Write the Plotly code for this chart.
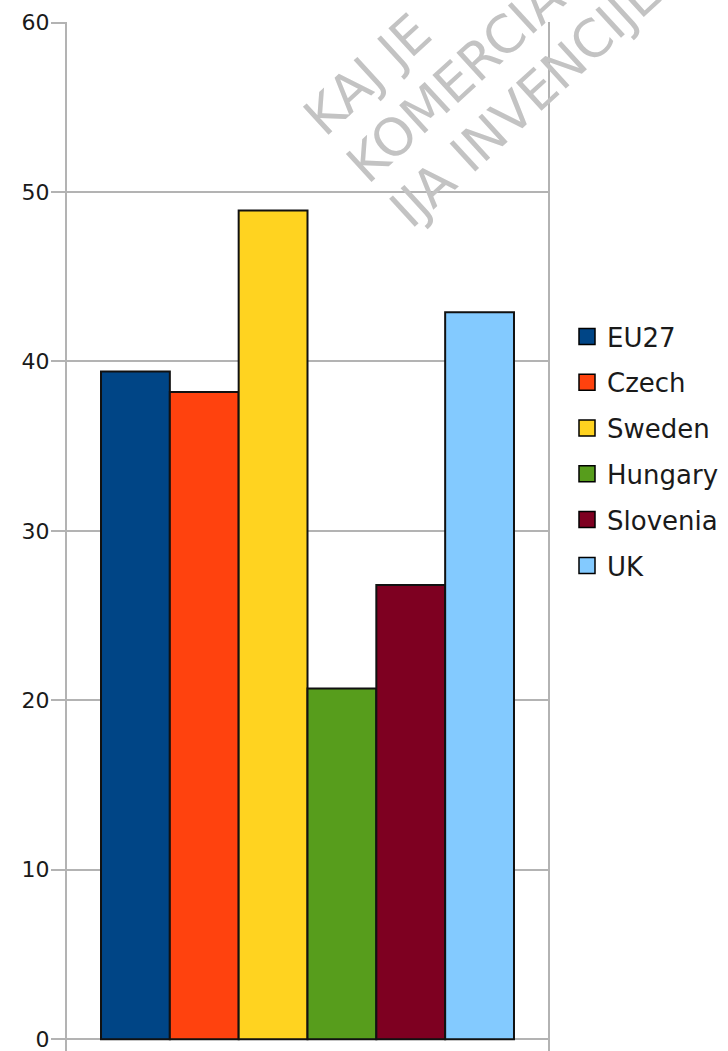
import plotly.graph_objects as go

countries = ["EU27", "Czech", "Sweden", "Hungary", "Slovenia", "UK"]
values = [39.4, 38.2, 48.9, 20.7, 26.8, 42.9]
colors = ["#004586", "#ff420e", "#ffd320", "#579d1c", "#7e0021", "#83caff"]
y_ticks = [0, 10, 20, 30, 40, 50, 60]
watermark_lines = ["KAJ JE", "KOMERCIALIZAC", "IJA INVENCIJE"]

W, H = 728, 1051
ML, MR, MT, MB = 67, 180, 22, 0
PW, PH = W - ML - MR, H - MT - MB


def px_x(px):
    return (px - ML) / PW


def px_y(py):
    return (H - MB - py) / PH


fig = go.Figure()
for name, val, col in zip(countries, values, colors):
    fig.add_trace(go.Bar(
        x=["all"], y=[val], name=name, legendgroup=name,
        marker=dict(color=col, line=dict(color="#111111", width=2)),
        showlegend=False,
    ))
    fig.add_trace(go.Scatter(
        x=[None], y=[None], name=name, legendgroup=name, mode="markers",
        marker=dict(symbol="square", size=16, color=col,
                    line=dict(color="#000000", width=1.5)),
        showlegend=True,
    ))

wm_pos = [(289, 150), (332, 197), (376, 242)]
annotations = []
for txt, (ax, ay) in zip(watermark_lines, wm_pos):
    annotations.append(dict(
        text=txt, xref="paper", yref="paper", x=px_x(ax), y=px_y(ay),
        xanchor="left", yanchor="bottom", textangle=-42.5, showarrow=False,
        font=dict(family="DejaVu Sans", size=52, color="#c3c3c3"),
    ))

fig.update_layout(
    width=W, height=H, autosize=False,
    margin=dict(l=ML, r=MR, t=MT, b=MB, pad=0),
    paper_bgcolor="white", plot_bgcolor="white",
    barmode="group", bargap=0.1414, bargroupgap=0,
    showlegend=True,
    legend=dict(
        x=px_x(567), y=px_y(451), xanchor="left", yanchor="middle",
        font=dict(family="DejaVu Sans", size=26, color="#1a1a1a"),
        traceorder="grouped", tracegroupgap=9,
        bgcolor="rgba(0,0,0,0)", borderwidth=0,
    ),
    xaxis=dict(showticklabels=False, showgrid=False, zeroline=False,
               showline=False, ticks="", range=[-0.5, 0.5]),
    yaxis=dict(
        range=[-0.7, 60.03], tickvals=y_ticks, ticktext=[str(v) for v in y_ticks],
        showgrid=True, gridcolor="#b3b3b3", gridwidth=1.6,
        zeroline=True, zerolinecolor="#b3b3b3", zerolinewidth=1.6,
        showline=True, mirror=True, linecolor="#b3b3b3", linewidth=2,
        ticks="outside", ticklen=14, tickwidth=1.6, tickcolor="#b3b3b3",
        ticklabeloverflow="allow", ticklabelstandoff=-3,
        tickfont=dict(family="DejaVu Sans", size=22, color="#1a1a1a"),
    ),
    annotations=annotations,
)

fig.write_html("out.html")
